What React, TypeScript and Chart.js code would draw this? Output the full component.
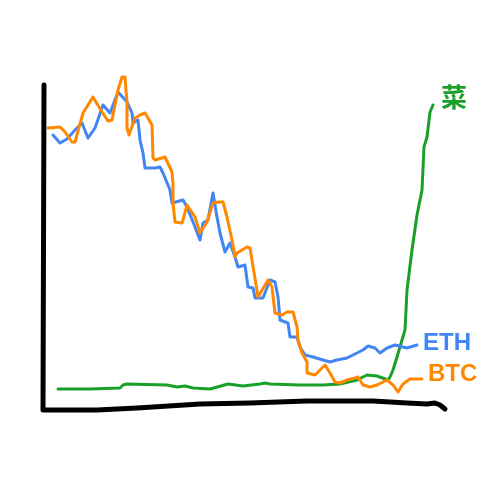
import React, { useEffect, useRef } from "react";
import { Chart, registerables } from "chart.js";

Chart.register(...registerables);

// Sketch values: x = time position, y = price level above the baseline
const btcX = [48, 60, 65, 72, 75, 83, 93, 102, 108, 112, 118, 122, 125, 127, 127, 129, 135, 140, 145, 152, 153, 155, 165, 172, 173, 173, 175, 182, 183, 187, 195, 200, 207, 213, 218, 223, 227, 232, 235, 237, 247, 250, 258, 268, 272, 275, 282, 287, 293, 297, 298, 302, 307, 307, 315, 325, 330, 335, 340, 347, 355, 358, 363, 370, 377, 387, 393, 398, 403, 410, 422];
const btcY = [272, 273, 268, 258, 258, 287, 303, 288, 279, 280, 310, 323, 323, 297, 272, 265, 282, 285, 287, 275, 242, 240, 243, 228, 217, 197, 178, 177, 180, 195, 183, 167, 178, 197, 198, 198, 183, 160, 143, 147, 153, 152, 103, 120, 113, 87, 85, 88, 88, 73, 60, 47, 38, 27, 25, 35, 27, 18, 17, 20, 22, 23, 15, 13, 15, 20, 15, 8, 16, 21, 21];

const ethX = [53, 60, 67, 75, 82, 88, 95, 103, 110, 118, 127, 132, 133, 138, 140, 143, 145, 155, 160, 163, 170, 172, 183, 187, 195, 200, 203, 208, 213, 217, 220, 225, 230, 235, 238, 245, 248, 253, 255, 263, 270, 275, 278, 280, 285, 288, 290, 297, 300, 305, 313, 323, 330, 337, 347, 357, 363, 368, 375, 380, 387, 395, 407, 417];
const ethY = [265, 257, 261, 270, 277, 262, 272, 295, 287, 308, 298, 287, 277, 280, 260, 247, 232, 232, 233, 227, 210, 197, 200, 193, 173, 160, 177, 180, 207, 183, 167, 148, 157, 143, 133, 135, 113, 112, 102, 102, 120, 118, 103, 80, 78, 77, 63, 63, 53, 45, 43, 40, 38, 40, 42, 47, 50, 54, 52, 47, 52, 55, 52, 55];

const caiX = [58, 90, 120, 123, 127, 167, 177, 185, 193, 210, 228, 243, 260, 265, 270, 300, 323, 340, 357, 367, 377, 388, 390, 393, 397, 402, 405, 407, 412, 417, 422, 424, 427, 430, 433];
const caiY = [11, 11, 12, 15, 16, 15, 13, 14, 12, 11, 16, 14, 16, 17, 16, 15, 15, 16, 20, 25, 24, 20, 23, 30, 43, 60, 70, 110, 150, 185, 210, 253, 263, 288, 295];

const axisX = [44, 43, 97, 137, 200, 250, 307, 373, 407, 427, 435, 440, 445];
const axisY = [315, -10, -10, -8, -4, -3, -1, -1, -3, -4, -3, -5, -9];

const seriesLabels = ["BTC", "ETH", "菜"];
const seriesColors = ["rgb(255,136,0)", "rgb(66,133,244)", "rgb(26,160,40)"];

const labelOffsets = [
  { dx: 6, dy: -5 },
  { dx: 6, dy: -1.5 },
  { dx: 8, dy: -7.5 },
];

const pts = (xs: number[], ys: number[]) => xs.map((x, i) => ({ x, y: ys[i] }));

const endLabels = {
  id: "endLabels",
  afterDatasetsDraw(chart: any) {
    const { ctx } = chart;
    const xs = chart.scales.x;
    const ys = chart.scales.y;
    ctx.save();
    ctx.textBaseline = "middle";
    ctx.textAlign = "left";
    seriesLabels.forEach((label, i) => {
      const data = chart.data.datasets[i].data as { x: number; y: number }[];
      const last = data[data.length - 1];
      const px = xs.getPixelForValue(last.x) + labelOffsets[i].dx;
      const py = ys.getPixelForValue(last.y) + labelOffsets[i].dy;
      ctx.fillStyle = seriesColors[i];
      ctx.font = i === 2
        ? "bold 26px 'Noto Sans CJK SC', sans-serif"
        : "bold 24px 'Liberation Sans', Arial, sans-serif";
      ctx.fillText(label, px, py);
    });
    ctx.restore();
  },
};

export default function App() {
  const ref = useRef<HTMLCanvasElement | null>(null);
  useEffect(() => {
    if (!ref.current) return;
    const line = (data: any, color: string, width: number) => ({
      data,
      borderColor: color,
      backgroundColor: color,
      borderWidth: width,
      pointRadius: 0,
      tension: 0,
      borderCapStyle: "round" as const,
      borderJoinStyle: "round" as const,
      fill: false,
    });
    const chart = new Chart(ref.current, {
      type: "line",
      data: {
        datasets: [
          line(pts(btcX, btcY), seriesColors[0], 3),
          line(pts(ethX, ethY), seriesColors[1], 3),
          line(pts(caiX, caiY), seriesColors[2], 3),
          line(pts(axisX, axisY), "#000", 5),
        ],
      },
      options: {
        responsive: false,
        animation: false,
        layout: { padding: 0 },
        plugins: { legend: { display: false }, tooltip: { enabled: false } },
        scales: {
          x: { type: "linear", min: 0, max: 500, display: false },
          y: { type: "linear", min: -100, max: 400, display: false },
        },
      },
      plugins: [endLabels],
    });
    return () => chart.destroy();
  }, []);
  return (
    <div style={{ position: "fixed", left: 0, top: 0, width: 500, height: 500, background: "#fff" }}>
      <canvas ref={ref} width={500} height={500} />
    </div>
  );
}
